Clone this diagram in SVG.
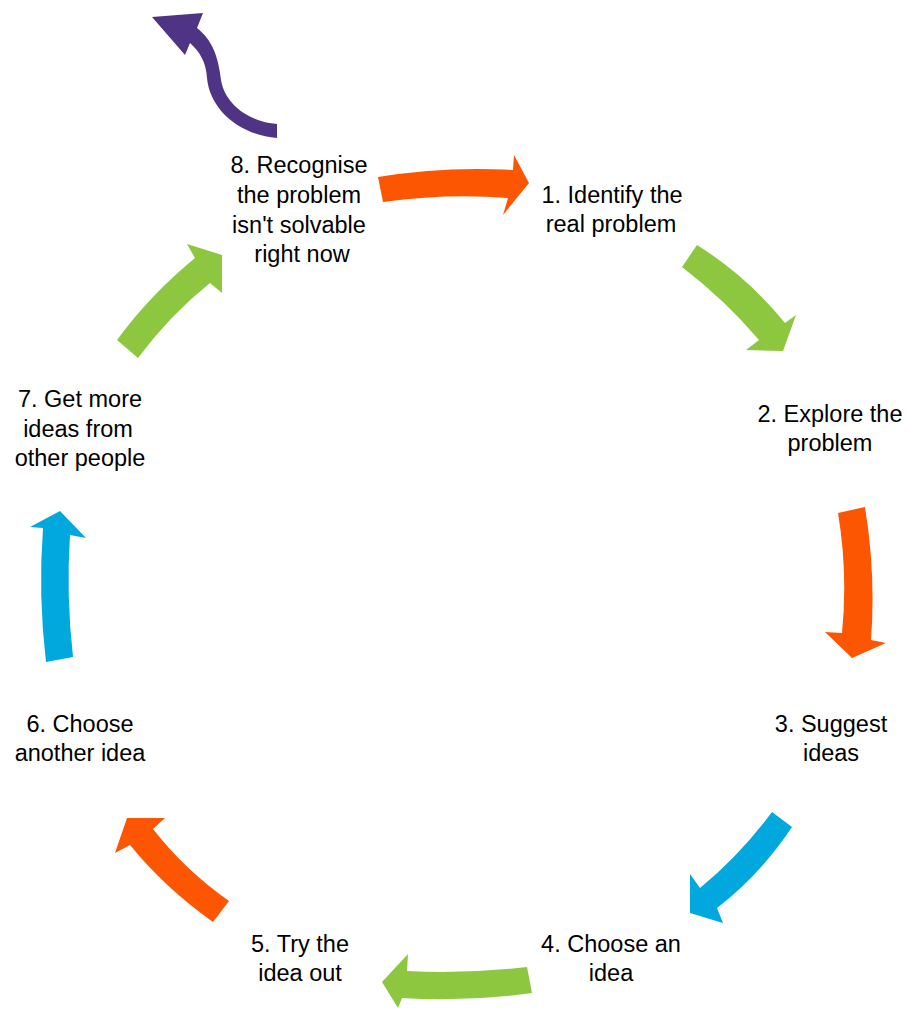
<svg xmlns="http://www.w3.org/2000/svg" width="908" height="1010" viewBox="0 0 908 1010">
<style>
.t{font-family:"Liberation Sans",Arial,sans-serif;font-size:23.5px;fill:#000;text-anchor:middle}
.o{fill:#FC5603}.g{fill:#8DC63F}.b{fill:#00A8DE}.p{fill:#4F3384}
</style>
<rect width="908" height="1010" fill="#fff"/>
<g id="connectors">
<path class="o" d="M378,177 Q445,166 513,170 L514,155 L529,183 L503,215 L508,198 Q448,193 383,202 Z"/>
<path class="g" d="M697,245 Q748,277 785,323 L796,315 L783,351 L746,350 L759,340 Q725,300 682,267 Z"/>
<path class="o" d="M838,513 L865,507 Q876,575 871,640 L886,643 L852,658 L825,632 L842,633 Q848,573 838,513 Z"/>
<path class="b" d="M772,812 L792,827 Q760,875 717,908 L723,923 L690,913 L690,874 L700,888 Q740,855 772,812 Z"/>
<path class="g" d="M527,967 L532,993 Q467,1002 402,998 L398,1008 L382,982 L408,954 L407,971 Q467,974 527,967 Z"/>
<path class="o" d="M229,901 L213,922 Q165,888 130,845 L115,853 L127,818 L165,818 L153,829 Q185,870 229,901 Z"/>
<path class="b" d="M46,662 L73,657 Q66,595 70,535 L86,538 L60,511 L30,527 L43,528 Q38,595 46,662 Z"/>
<path class="g" d="M117,340 L138,358 Q170,315 210,283 L222,293 L222,255 L187,244 L195,258 Q150,295 117,340 Z"/>
<path class="p" d="M277,124 C250,122 225,105 221,80 C218,55 212,40 197,28 L203,13 L152,17 L185,55 L190,43 C200,52 206,62 207,78 C210,110 240,135 277,138 Z"/>
</g>
<g id="node8"><text class="t" x="299" y="173">8. Recognise</text><text class="t" x="299" y="203">the problem</text><text class="t" x="299" y="233">isn't solvable</text><text class="t" x="302" y="262">right now</text></g>
<g id="node1"><text class="t" x="612" y="203">1. Identify the</text><text class="t" x="611" y="232">real problem</text></g>
<g id="node2"><text class="t" x="830" y="422">2. Explore the</text><text class="t" x="830" y="451">problem</text></g>
<g id="node3"><text class="t" x="831" y="732">3. Suggest</text><text class="t" x="831" y="761">ideas</text></g>
<g id="node4"><text class="t" x="611" y="952">4. Choose an</text><text class="t" x="611" y="981">idea</text></g>
<g id="node5"><text class="t" x="300" y="952">5. Try the</text><text class="t" x="300" y="981">idea out</text></g>
<g id="node6"><text class="t" x="80" y="732">6. Choose</text><text class="t" x="80" y="761">another idea</text></g>
<g id="node7"><text class="t" x="80" y="407">7. Get more</text><text class="t" x="78" y="437">ideas from</text><text class="t" x="80" y="466">other people</text></g>
</svg>
